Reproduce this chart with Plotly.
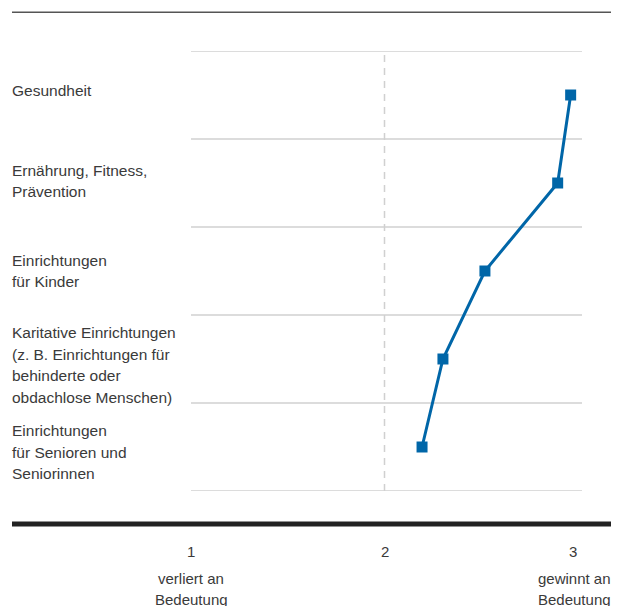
import plotly.graph_objects as go

# ---- data ----
categories = [
    "Gesundheit",
    "Ernährung, Fitness,<br>Prävention",
    "Einrichtungen<br>für Kinder",
    "Karitative Einrichtungen<br>(z. B. Einrichtungen für<br>behinderte oder<br>obdachlose Menschen)",
    "Einrichtungen<br>für Senioren und<br>Seniorinnen",
]
values = [2.962, 2.895, 2.519, 2.302, 2.194]
tick_values = [1, 2, 3]
tick_labels = ["1", "2", "3"]
tick_sublabels = ["verliert an<br>Bedeutung", "", "gewinnt an<br>Bedeutung"]

# ---- style ----
OFF = 8  # page body margin
W, H = 619 - OFF, 606 - OFF
# plot area in page pixels: x 191..582, y 51..491
L = 191 - OFF
R = W - (582 - OFF)
T = 51 - OFF
B = H - (491 - OFF)
plot_w = W - L - R
plot_h = H - T - B
FONT = "Liberation Sans, Arial, Helvetica, sans-serif"
TEXT_COLOR = "#3a3a3a"
BLUE = "#0066a8"
GRID = "#d0d0d0"
LINE_H = 21.5
label_yshift = [5, 2, 0, -6, -5]
tick_xshift = [0, 0, -5]

def px_to_paper_x(px):
    return (px - OFF - L) / plot_w

def px_to_paper_y(py):
    return (H - B - (py - OFF)) / plot_h

ys = list(range(len(categories)))

fig = go.Figure()
fig.add_trace(go.Scatter(
    x=values, y=ys, mode="lines+markers",
    line=dict(color=BLUE, width=3),
    marker=dict(symbol="square", size=11, color=BLUE),
    hoverinfo="skip", showlegend=False,
))

shapes = []
for i in range(len(categories) + 1):
    yb = i - 0.5
    shapes.append(dict(type="line", xref="paper", yref="y", x0=0, x1=1, y0=yb, y1=yb,
                       line=dict(color=GRID, width=1.5), layer="below"))
shapes.append(dict(type="line", xref="x", yref="paper", x0=2, x1=2, y0=0, y1=1,
                   line=dict(color=GRID, width=1.5, dash="7px,6px"), layer="below"))
shapes.append(dict(type="line", xref="paper", yref="paper",
                   x0=px_to_paper_x(12), x1=px_to_paper_x(615),
                   y0=px_to_paper_y(12.3), y1=px_to_paper_y(12.3),
                   line=dict(color="#555555", width=1.5)))
shapes.append(dict(type="line", xref="paper", yref="paper",
                   x0=px_to_paper_x(12), x1=px_to_paper_x(615),
                   y0=px_to_paper_y(524), y1=px_to_paper_y(524),
                   line=dict(color="#222222", width=5)))

annotations = []
for i, (cat, ysh) in enumerate(zip(categories, label_yshift)):
    lines = cat.split("<br>")
    n = len(lines)
    for j, ln in enumerate(lines):
        off = ((n - 1) / 2 - j) * LINE_H + ysh
        annotations.append(dict(
            text=ln, xref="paper", yref="y", x=px_to_paper_x(10), y=i,
            xanchor="left", yanchor="middle", yshift=off, showarrow=False,
            font=dict(family=FONT, size=15.5, color=TEXT_COLOR), align="left"))
for tv, tl, sub, xs in zip(tick_values, tick_labels, tick_sublabels, tick_xshift):
    annotations.append(dict(
        text=tl, xref="x", yref="paper", x=tv, y=px_to_paper_y(551),
        xanchor="center", yanchor="middle", xshift=xs, showarrow=False,
        font=dict(family=FONT, size=15, color=TEXT_COLOR)))
    if sub:
        for j, ln in enumerate(sub.split("<br>")):
            annotations.append(dict(
                text=ln, xref="x", yref="paper", x=tv, y=px_to_paper_y(578 + j * LINE_H),
                xanchor="center", yanchor="middle", xshift=xs + (1 if tv == 3 else 0),
                showarrow=False,
                font=dict(family=FONT, size=15, color=TEXT_COLOR)))

fig.update_layout(
    width=W, height=H,
    margin=dict(l=L, r=R, t=T, b=B, pad=0),
    paper_bgcolor="white", plot_bgcolor="white",
    xaxis=dict(range=[1, 1 + plot_w / 193.5], showgrid=False, zeroline=False,
               showticklabels=False, showline=False, fixedrange=True),
    yaxis=dict(range=[len(categories) - 0.5, -0.5], showgrid=False, zeroline=False,
               showticklabels=False, showline=False, fixedrange=True),
    shapes=shapes, annotations=annotations,
    showlegend=False,
)

fig.write_html("out.html", config={"displayModeBar": False})
